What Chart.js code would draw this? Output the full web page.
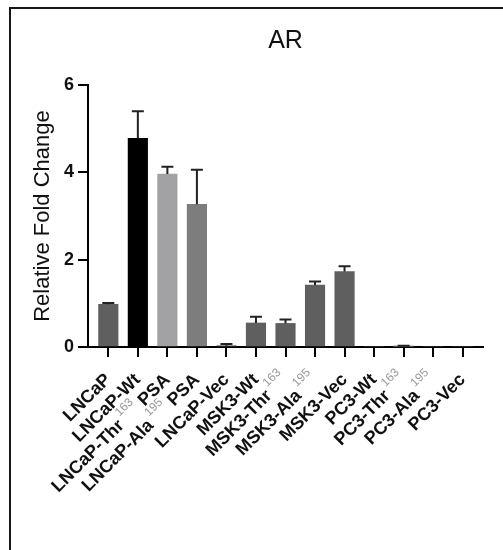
<!DOCTYPE html>
<html><head><meta charset="utf-8">
<script src="https://cdn.jsdelivr.net/npm/chart.js@4.4.0/dist/chart.umd.min.js"></script>
<style>
html,body{margin:0;padding:0;background:#fff;overflow:hidden;width:503px;height:550px;}
#frame{position:absolute;left:9px;top:7px;width:700px;height:700px;border:2px solid #161616;box-sizing:border-box;}
#wrap{position:absolute;left:0;top:0;width:503px;height:550px;}
</style></head><body>
<div id="frame"></div>
<div id="wrap"><canvas id="c" width="503" height="550"></canvas></div>
<script>
const titleText = 'AR';
const yTitle = 'Relative Fold Change';
const labelMain = ['LNCaP','LNCaP-Wt','LNCaP-Thr','LNCaP-Ala','LNCaP-Vec','MSK3-Wt','MSK3-Thr','MSK3-Ala','MSK3-Vec','PC3-Wt','PC3-Thr','PC3-Ala','PC3-Vec'];
const labelSup = ['','','163','195','','','163','195','','','163','195',''];
const labelSuffix = ['','',' PSA',' PSA','','','','','','','','',''];
const means = [0.98, 4.78, 3.96, 3.27, 0.03, 0.55, 0.54, 1.42, 1.73, 0, 0.01, 0, 0];
const errors = [0.03, 0.62, 0.17, 0.79, 0.04, 0.14, 0.09, 0.08, 0.12, 0, 0.02, 0, 0];
const barColors = ['#5f5f5f','#000000','#a2a2a5','#7d7d7d','#5f5f5f','#5f5f5f','#5f5f5f','#5f5f5f','#5f5f5f','#5f5f5f','#5f5f5f','#5f5f5f','#5f5f5f'];
const yTickValues = [0, 2, 4, 6];

const FAM = '"Liberation Sans", Arial, sans-serif';

const errorBars = {
  id: 'errorBars',
  afterDatasetsDraw(chart) {
    const ctx = chart.ctx, xs = chart.scales.x, ys = chart.scales.y;
    ctx.save();
    ctx.strokeStyle = '#222';
    ctx.lineWidth = 2;
    means.forEach((m, i) => {
      if (!errors[i]) return;
      const x = xs.getPixelForValue(i);
      const y0 = ys.getPixelForValue(m);
      const y1 = ys.getPixelForValue(m + errors[i]);
      ctx.beginPath();
      ctx.moveTo(x, y0); ctx.lineTo(x, y1);
      ctx.moveTo(x - 6, y1); ctx.lineTo(x + 6, y1);
      ctx.stroke();
    });
    ctx.restore();
  }
};

const richLabels = {
  id: 'richLabels',
  afterDraw(chart) {
    const ctx = chart.ctx, xs = chart.scales.x;
    const area = chart.chartArea;
    const axisY = area.bottom;
    // y-axis title
    ctx.save();
    ctx.translate(43, (area.top + area.bottom) / 2);
    ctx.rotate(-Math.PI / 2);
    ctx.font = '22px ' + FAM;
    ctx.fillStyle = '#111';
    ctx.textAlign = 'center';
    ctx.textBaseline = 'middle';
    ctx.fillText(yTitle, 0, 0);
    ctx.restore();
    // x labels
    const fMain = 'bold 18px ' + FAM, fSup = '12px ' + FAM;
    labelMain.forEach((m, i) => {
      const x = xs.getPixelForValue(i);
      ctx.save();
      ctx.translate(x, axisY + 30);
      ctx.rotate(-Math.PI / 4);
      ctx.font = fMain;
      const w1 = ctx.measureText(m).width;
      const w3 = labelSuffix[i] ? ctx.measureText(labelSuffix[i]).width : 0;
      ctx.font = fSup;
      const w2 = labelSup[i] ? ctx.measureText(labelSup[i]).width + 3 : 0;
      let cx = -(w1 + w2 + w3);
      ctx.textBaseline = 'middle';
      ctx.textAlign = 'left';
      ctx.font = fMain; ctx.fillStyle = '#111';
      ctx.fillText(m, cx, 0); cx += w1;
      if (labelSup[i]) {
        ctx.font = fSup; ctx.fillStyle = '#999';
        ctx.fillText(labelSup[i], cx + 3, -9); cx += w2;
      }
      if (labelSuffix[i]) {
        ctx.font = fMain; ctx.fillStyle = '#111';
        ctx.fillText(labelSuffix[i], cx, 0);
      }
      ctx.restore();
    });
  }
};

new Chart(document.getElementById('c'), {
  type: 'bar',
  data: {
    datasets: [{
      data: means.map((v, i) => ({ x: i, y: v })),
      backgroundColor: barColors,
      borderWidth: 0,
      barThickness: 19.5
    }]
  },
  options: {
    responsive: false,
    devicePixelRatio: 1,
    animation: false,
    layout: { padding: { left: 0, right: 20, top: 0, bottom: 0 } },
    plugins: {
      legend: { display: false },
      tooltip: { enabled: false },
      title: {
        display: true, text: titleText, fullSize: false, color: '#111',
        font: { family: FAM, size: 25, weight: 'normal' },
        padding: { top: 26.5, bottom: 28.5 }
      }
    },
    scales: {
      x: {
        type: 'linear', min: -0.688, max: 12.688, offset: false,
        afterBuildTicks: s => { s.ticks = means.map((_, i) => ({ value: i })); },
        ticks: { display: false },
        grid: { offset: false, drawOnChartArea: false, drawTicks: true, tickLength: 10, color: '#000', lineWidth: 2 },
        border: { display: true, color: '#000', width: 2 },
        afterFit: s => { s.height = 203; }
      },
      y: {
        min: 0, max: 6,
        afterBuildTicks: s => { s.ticks = yTickValues.map(v => ({ value: v })); },
        ticks: { color: '#111', padding: 4, font: { family: FAM, size: 18, weight: 'bold' } },
        grid: { drawOnChartArea: false, drawTicks: true, tickLength: 10, color: '#000', lineWidth: 2 },
        border: { display: true, color: '#000', width: 2 },
        title: { display: false },
        afterFit: s => { s.width = 88; }
      }
    }
  },
  plugins: [errorBars, richLabels]
});
</script>
</body></html>
